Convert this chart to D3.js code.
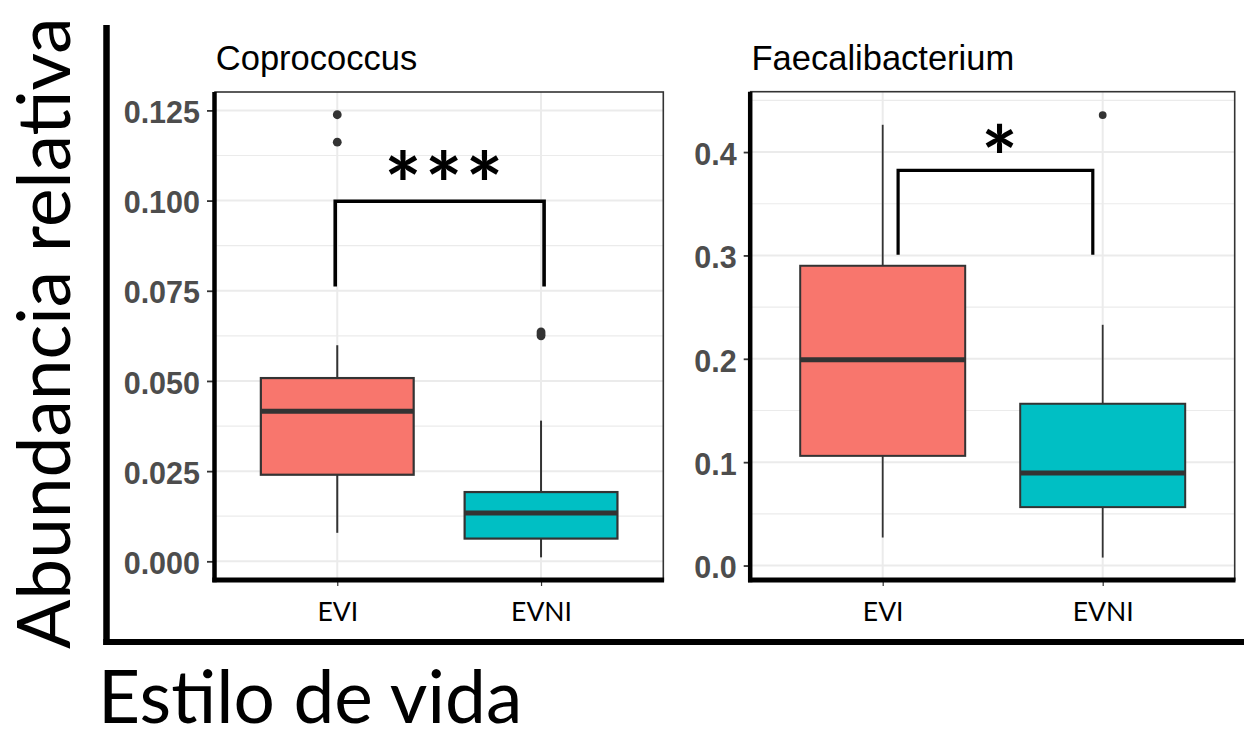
<!DOCTYPE html>
<html>
<head>
<meta charset="utf-8">
<script src="https://cdn.jsdelivr.net/npm/d3@7"></script>
<style>
  html, body { margin: 0; padding: 0; background: #ffffff; }
  svg { display: block; }
</style>
</head>
<body>
<svg id="chart" width="1244" height="729"></svg>
<script>
// ---------------- DATA ----------------
const categories = ["EVI", "EVNI"];
const panelTitles = ["Coprococcus", "Faecalibacterium"];

// Coprococcus box statistics (per category)
const coproLower  = [0.0079, 0.0011];
const coproQ1     = [0.0240, 0.0063];
const coproMedian = [0.0416, 0.0134];
const coproQ3     = [0.0508, 0.0192];
const coproUpper  = [0.0599, 0.0390];
const coproOutliers = [[0.1238, 0.1162], [0.0625, 0.0630, 0.0636]];

// Faecalibacterium box statistics (per category)
const faecLower  = [0.0271, 0.0077];
const faecQ1     = [0.1061, 0.0565];
const faecMedian = [0.1990, 0.0894];
const faecQ3     = [0.2900, 0.1565];
const faecUpper  = [0.4264, 0.2329];
const faecOutliers = [[], [0.4358]];

// y ticks
const coproTicks = [0, 0.025, 0.05, 0.075, 0.1, 0.125];
const coproTickLabels = ["0.000", "0.025", "0.050", "0.075", "0.100", "0.125"];
const faecTicks = [0, 0.1, 0.2, 0.3, 0.4];
const faecTickLabels = ["0.0", "0.1", "0.2", "0.3", "0.4"];

// y domains (with ggplot expansion)
const coproDomain = [-0.00518, 0.1301];
const faecDomain  = [-0.0140, 0.4584];

// significance brackets
const bracketLabels = ["***", "*"];
const bracketXmin   = [0.99, 1.07];
const bracketXmax   = [2.015, 1.955];
const bracketY      = [0.0998, 0.3822];
const bracketTipY   = [0.0762, 0.3006];
const bracketLabelY = [0.1093, 0.4117];

const axisTitleY = "Abundancia relativa";
const axisTitleX = "Estilo de vida";

const fills = ["#F8766D", "#00BFC4"];

// ---------------- LAYOUT ----------------
const svg = d3.select("#chart");
svg.append("rect").attr("width", 1244).attr("height", 729).attr("fill", "#fff");

const panels = [
  { title: panelTitles[0], left: 215, right: 663.3, top: 92, bottom: 580, domain: coproDomain,
    ticks: coproTicks, tickLabels: coproTickLabels,
    lower: coproLower, q1: coproQ1, med: coproMedian, q3: coproQ3, upper: coproUpper, out: coproOutliers,
    tickSize: 8, tickPad: 7, boxStroke: 2.2, medStroke: 5, whiskStroke: 2, ptR: 4.4,
    bi: 0, starSize: 88, starGap: 40.7, bracketW: 3.6 },
  { title: panelTitles[1], left: 750.7, right: 1234.7, top: 91.7, bottom: 580, domain: faecDomain,
    ticks: faecTicks, tickLabels: faecTickLabels,
    lower: faecLower, q1: faecQ1, med: faecMedian, q3: faecQ3, upper: faecUpper, out: faecOutliers,
    tickSize: 7, tickPad: 7, boxStroke: 2, medStroke: 5, whiskStroke: 1.8, ptR: 3.9,
    bi: 1, starSize: 86, starGap: 40.7, bracketW: 3.2 }
];

panels.forEach(p => {
  const g = svg.append("g");
  const x = d3.scaleLinear().domain([0.4, 2.6]).range([p.left, p.right]);
  const y = d3.scaleLinear().domain(p.domain).range([p.bottom, p.top]);

  // minor gridlines
  const minor = [];
  for (let i = 0; i < p.ticks.length; i++) {
    const step = p.ticks[1] - p.ticks[0];
    const m = p.ticks[i] + step / 2;
    if (m < p.domain[1]) minor.push(m);
    if (i === 0 && p.ticks[0] - step / 2 > p.domain[0]) minor.push(p.ticks[0] - step / 2);
  }
  g.selectAll(".minor").data(minor).enter().append("line")
    .attr("x1", p.left).attr("x2", p.right)
    .attr("y1", d => y(d)).attr("y2", d => y(d))
    .attr("stroke", "#EBEBEB").attr("stroke-width", 1.2);
  g.selectAll(".major").data(p.ticks).enter().append("line")
    .attr("x1", p.left).attr("x2", p.right)
    .attr("y1", d => y(d)).attr("y2", d => y(d))
    .attr("stroke", "#EBEBEB").attr("stroke-width", 2);
  g.selectAll(".vmajor").data(categories).enter().append("line")
    .attr("x1", (d, i) => x(i + 1)).attr("x2", (d, i) => x(i + 1))
    .attr("y1", p.top).attr("y2", p.bottom)
    .attr("stroke", "#EBEBEB").attr("stroke-width", 2);

  // boxplots
  const bw = 0.75;
  categories.forEach((c, i) => {
    const cx = x(i + 1);
    g.append("line").attr("x1", cx).attr("x2", cx)
      .attr("y1", y(p.q3[i])).attr("y2", y(p.upper[i]))
      .attr("stroke", "#333333").attr("stroke-width", p.whiskStroke);
    g.append("line").attr("x1", cx).attr("x2", cx)
      .attr("y1", y(p.q1[i])).attr("y2", y(p.lower[i]))
      .attr("stroke", "#333333").attr("stroke-width", p.whiskStroke);
    g.append("rect")
      .attr("x", x(i + 1 - bw / 2)).attr("width", x(i + 1 + bw / 2) - x(i + 1 - bw / 2))
      .attr("y", y(p.q3[i])).attr("height", y(p.q1[i]) - y(p.q3[i]))
      .attr("fill", fills[i]).attr("stroke", "#333333").attr("stroke-width", p.boxStroke);
    g.append("line")
      .attr("x1", x(i + 1 - bw / 2)).attr("x2", x(i + 1 + bw / 2))
      .attr("y1", y(p.med[i])).attr("y2", y(p.med[i]))
      .attr("stroke", "#333333").attr("stroke-width", p.medStroke);
    g.selectAll(null).data(p.out[i]).enter().append("circle")
      .attr("cx", cx).attr("cy", d => y(d)).attr("r", p.ptR)
      .attr("fill", "#333333");
  });

  // panel border (theme_bw)
  g.append("rect").attr("x", p.left).attr("y", p.top)
    .attr("width", p.right - p.left).attr("height", p.bottom - p.top)
    .attr("fill", "none").attr("stroke", "#333333").attr("stroke-width", 1.6);

  // y axis
  const ya = g.append("g").attr("transform", `translate(${p.left},0)`)
    .call(d3.axisLeft(y).tickValues(p.ticks).tickSize(p.tickSize).tickPadding(p.tickPad)
      .tickFormat((d, i) => p.tickLabels[i]));
  ya.select(".domain").remove();
  ya.selectAll(".tick line").attr("stroke", "#333333").attr("stroke-width", 1.8);
  ya.selectAll(".tick text")
    .attr("font-family", "'Liberation Sans', Arial, sans-serif")
    .attr("font-weight", "bold").attr("font-size", 30.5)
    .attr("fill", "#4D4D4D").attr("dy", "0.40em");

  // x axis
  const xa = g.append("g").attr("transform", `translate(0,${p.bottom})`)
    .call(d3.axisBottom(x).tickValues([1, 2]).tickSize(6).tickPadding(15.5)
      .tickFormat((d, i) => categories[i]));
  xa.select(".domain").remove();
  xa.selectAll(".tick line").attr("stroke", "#333333").attr("stroke-width", 1.2);
  xa.selectAll(".tick text")
    .attr("font-family", "Lato, 'Open Sans', sans-serif")
    .attr("font-size", 26.5).attr("fill", "#000").attr("dy", "0.72em");

  // axis lines (thick black)
  g.append("line").attr("x1", p.left - 0.5).attr("x2", p.left - 0.5)
    .attr("y1", p.top).attr("y2", p.bottom + 2.3)
    .attr("stroke", "#000").attr("stroke-width", 4.5);
  g.append("line").attr("x1", p.left - 2.7).attr("x2", p.right + 0.8)
    .attr("y1", p.bottom).attr("y2", p.bottom)
    .attr("stroke", "#000").attr("stroke-width", 4.8);

  // strip title
  g.append("text").attr("x", p.left + 0.8).attr("y", 69.5)
    .attr("font-family", "'Liberation Sans', Arial, sans-serif")
    .attr("font-size", 34.5).attr("fill", "#000").text(p.title);

  // significance bracket
  const b = p.bi;
  const bx1 = x(bracketXmin[b]), bx2 = x(bracketXmax[b]);
  g.append("path")
    .attr("d", d3.line()([[bx1, y(bracketTipY[b])], [bx1, y(bracketY[b])], [bx2, y(bracketY[b])], [bx2, y(bracketTipY[b])]]))
    .attr("fill", "none").attr("stroke", "#000").attr("stroke-width", p.bracketW);
  const chars = bracketLabels[b].split("");
  const mid = (bx1 + bx2) / 2 + 4;
  g.selectAll(null).data(chars).enter().append("text")
    .attr("x", (d, i) => mid + (i - (chars.length - 1) / 2) * p.starGap)
    .attr("y", y(bracketLabelY[b]))
    .attr("dy", "0.57em")
    .attr("text-anchor", "middle")
    .attr("font-family", "Lato, 'Open Sans', sans-serif")
    .attr("font-weight", "bold")
    .attr("font-size", p.starSize).attr("fill", "#000")
    .text(d => d);
});

// big outer axis lines
svg.append("line").attr("x1", 106.5).attr("x2", 106.5).attr("y1", 25).attr("y2", 645)
  .attr("stroke", "#000").attr("stroke-width", 6.5);
svg.append("line").attr("x1", 103.3).attr("x2", 1244).attr("y1", 642).attr("y2", 642)
  .attr("stroke", "#000").attr("stroke-width", 6);

// outer axis titles
svg.append("text")
  .attr("transform", "translate(70,649) rotate(-90)")
  .attr("font-family", "Lato, 'Open Sans', sans-serif")
  .attr("font-size", 73).attr("fill", "#000").text(axisTitleY);
svg.append("text")
  .attr("x", 98).attr("y", 723)
  .attr("font-family", "Lato, 'Open Sans', sans-serif")
  .attr("font-size", 73).attr("fill", "#000").text(axisTitleX);
</script>
</body>
</html>
